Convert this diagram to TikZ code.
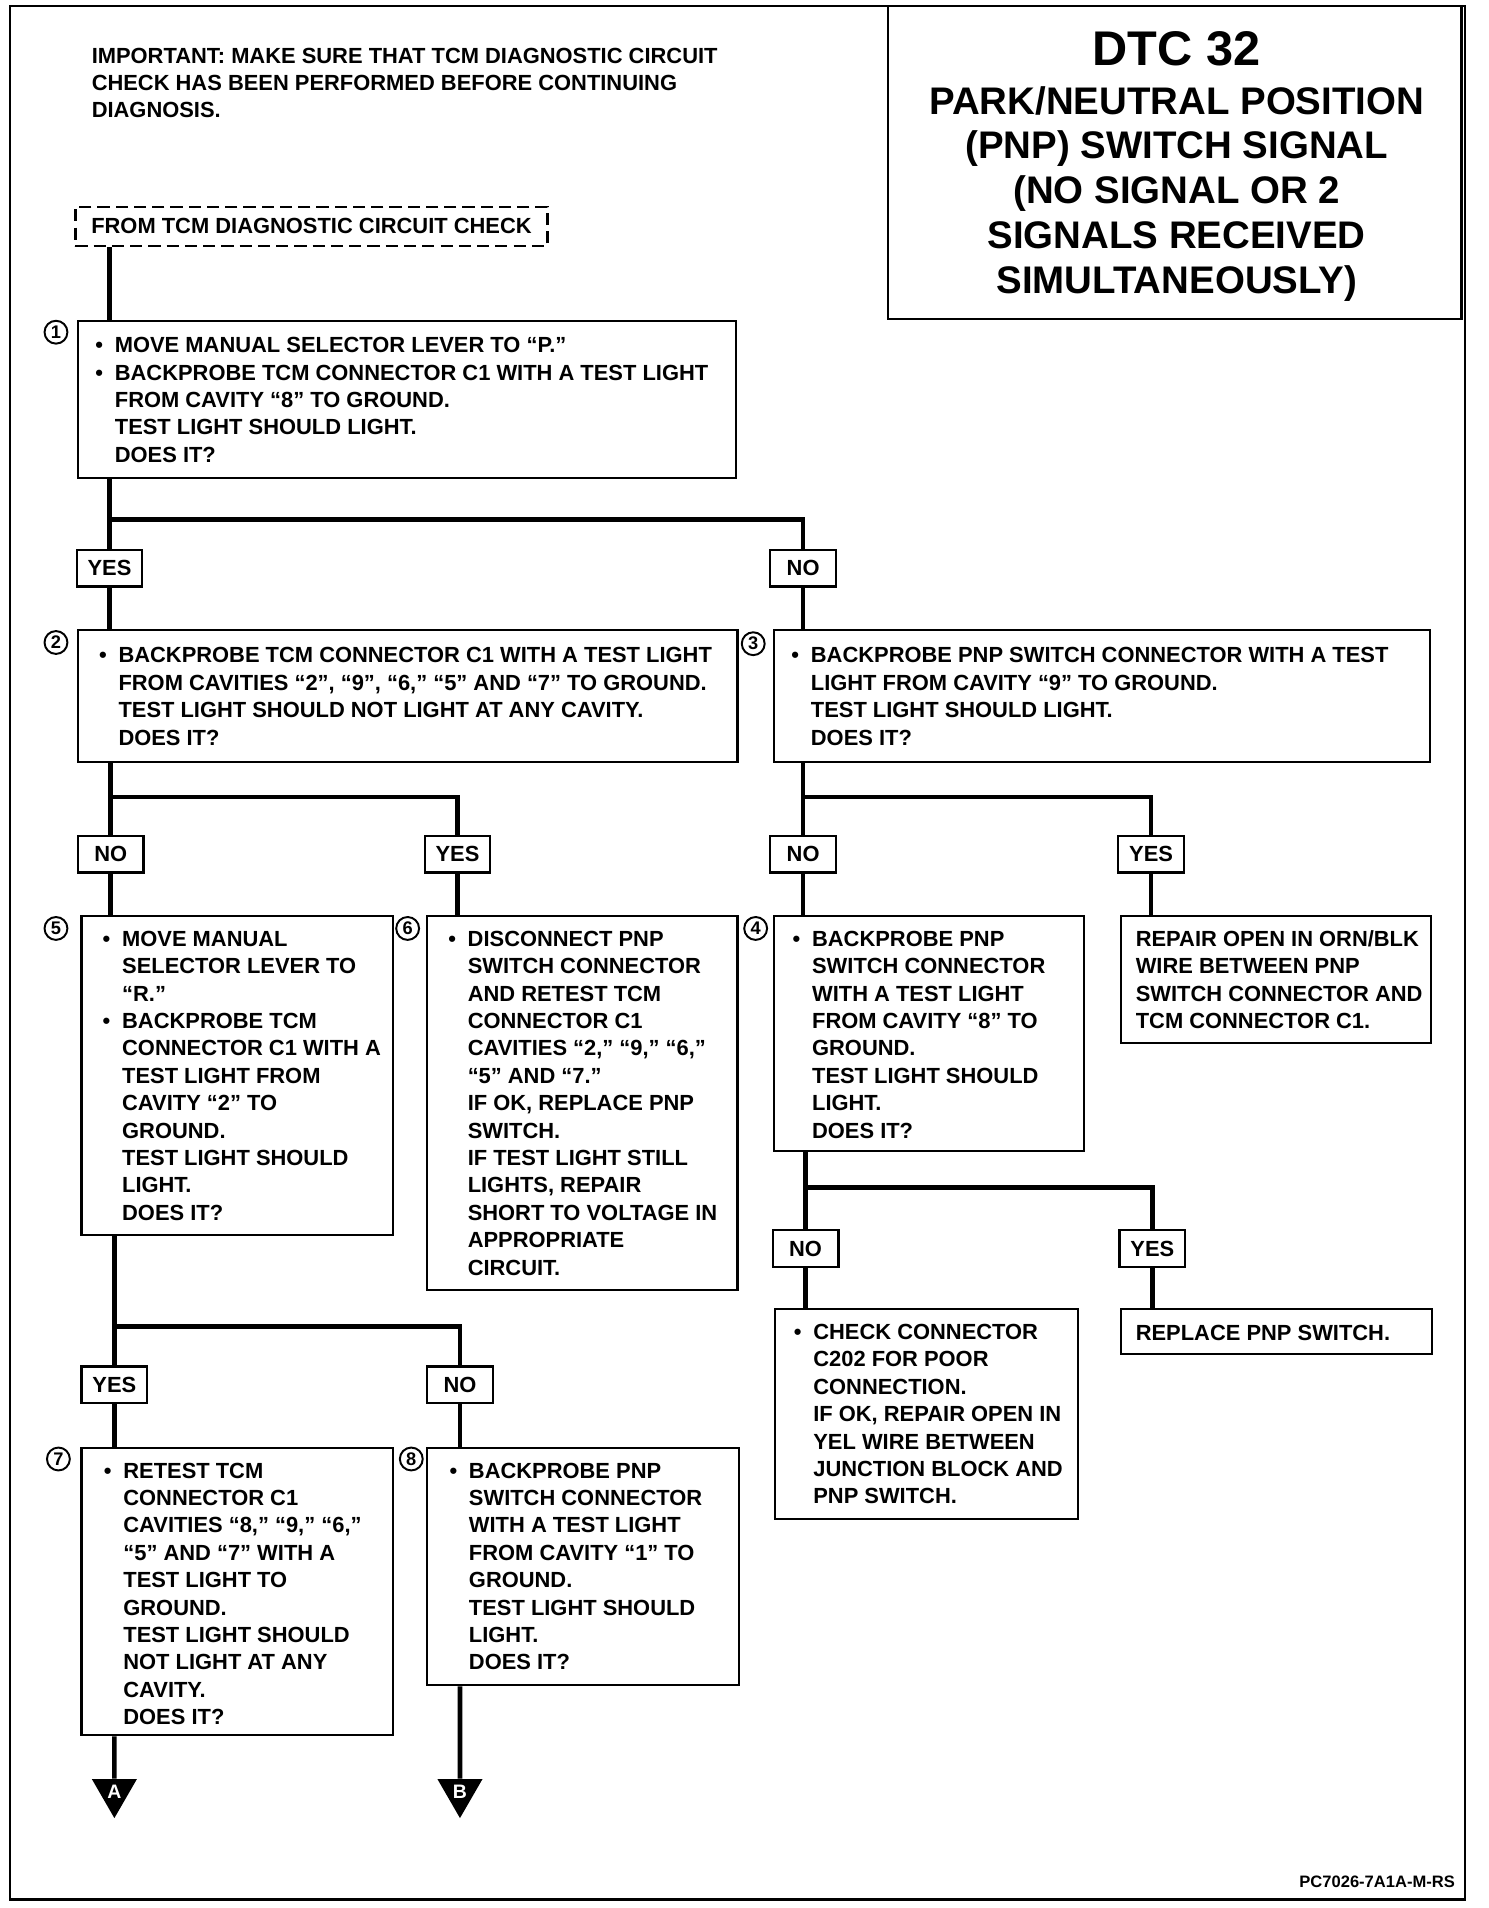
\documentclass[tikz,border=0pt]{standalone}
\usepackage{fontspec}
\setmainfont{Liberation Sans}
\usetikzlibrary{fit,shapes.geometric}
\newcommand\bul{\makebox[8pt][l]{\textbullet}}
\newcommand\ind{\hspace*{8pt}}
\newcommand\st{\rule{0pt}{8pt}}
\begin{document}
\begin{tikzpicture}[x=0.5pt,y=-0.5pt,
  font=\fontsize{9}{11.25}\selectfont\bfseries,
  box/.style={draw, line width=0.9pt, inner sep=0pt},
  txt/.style={anchor=north west, inner sep=0pt, align=left},
  lab/.style={draw, line width=0.9pt, minimum width=27pt, minimum height=15pt, inner sep=0pt},
  conn/.style={line width=1.9pt},
  num/.style={draw, circle, line width=0.8pt, minimum size=9.4pt, inner sep=0pt, font=\fontsize{7.5}{8}\selectfont\bfseries},
  tri/.style={regular polygon, regular polygon sides=3, shape border rotate=180, fill=black, minimum size=21.4pt, inner sep=0pt, text=white, font=\fontsize{8}{9}\selectfont\bfseries}]
\useasboundingbox (0,0) rectangle (1223,1568);
\fill[white] (0,0) rectangle (1223,1568);
% outer frame
\draw[line width=0.9pt] (8,5) rectangle (1204,1561);
% title
\node[box, fit={(730,5) (1201,262)}] (ttlbox) {};
\node[anchor=base, inner sep=0pt, font=\fontsize{20}{24}\selectfont\bfseries] (ttl1) at (967,54) {DTC 32};
\node[anchor=north, inner sep=0pt, align=center, font=\fontsize{15.8}{18.4}\selectfont\bfseries] (ttl2) at (967,65.3)
  {\rule{0pt}{14pt}PARK/NEUTRAL POSITION\\(PNP) SWITCH SIGNAL\\(NO SIGNAL OR 2\\SIGNALS RECEIVED\\SIMULTANEOUSLY)};
% important
\node[txt] (imp) at (75,35.4) {\st IMPORTANT: MAKE SURE THAT TCM DIAGNOSTIC CIRCUIT\\CHECK HAS BEEN PERFORMED BEFORE CONTINUING\\DIAGNOSIS.};
% start
\node[draw, dashed, dash pattern=on 5pt off 2.5pt, line width=0.9pt, minimum width=194pt, minimum height=16pt, inner sep=0pt] (start) at (256,186) {FROM TCM DIAGNOSTIC CIRCUIT CHECK};
% boxes
\node[box, fit={(64,264) (605,393)}] (b1) {};
\node[box, fit={(64,518) (606,626)}] (b2) {};
\node[box, fit={(636,518) (1175,626)}] (b3) {};
\node[box, fit={(67,753) (323,1015)}] (b5) {};
\node[box, fit={(351,753) (606,1060)}] (b6) {};
\node[box, fit={(636,753) (891,946)}] (b4) {};
\node[box, fit={(921,753) (1176,857)}] (born) {};
\node[box, fit={(67,1190) (323,1426)}] (b7) {};
\node[box, fit={(351,1190) (607,1385)}] (b8) {};
\node[box, fit={(637,1076) (886,1248)}] (bchk) {};
\node[box, fit={(921,1076) (1177,1113)}] (brep) {};
% numbers
\node[num] (c1) at (46,273) {1};
\node[num] (c2) at (46,528) {2};
\node[num] (c3) at (619,529) {3};
\node[num] (c5) at (46,763) {5};
\node[num] (c6) at (335,763) {6};
\node[num] (c4) at (621,763) {4};
\node[num] (c7) at (48,1199) {7};
\node[num] (c8) at (338,1199) {8};
% texts
\node[txt] (t1) at (78,273.4) {\st\bul MOVE MANUAL SELECTOR LEVER TO “P.”\\
\bul BACKPROBE TCM CONNECTOR C1 WITH A TEST LIGHT\\
\ind FROM CAVITY “8” TO GROUND.\\
\ind TEST LIGHT SHOULD LIGHT.\\
\ind DOES IT?};
\node[txt] (t2) at (81,528.4) {\st\bul BACKPROBE TCM CONNECTOR C1 WITH A TEST LIGHT\\
\ind FROM CAVITIES “2”, “9”, “6,” “5” AND “7” TO GROUND.\\
\ind TEST LIGHT SHOULD NOT LIGHT AT ANY CAVITY.\\
\ind DOES IT?};
\node[txt] (t3) at (650,528.4) {\st\bul BACKPROBE PNP SWITCH CONNECTOR WITH A TEST\\
\ind LIGHT FROM CAVITY “9” TO GROUND.\\
\ind TEST LIGHT SHOULD LIGHT.\\
\ind DOES IT?};
\node[txt] (t5) at (84,761.4) {\st\bul MOVE MANUAL\\ \ind SELECTOR LEVER TO\\ \ind “R.”\\ \bul BACKPROBE TCM\\ \ind CONNECTOR C1 WITH A\\ \ind TEST LIGHT FROM\\ \ind CAVITY “2” TO\\ \ind GROUND.\\ \ind TEST LIGHT SHOULD\\ \ind LIGHT.\\ \ind DOES IT?};
\node[txt] (t6) at (368,761.4) {\st\bul DISCONNECT PNP\\ \ind SWITCH CONNECTOR\\ \ind AND RETEST TCM\\ \ind CONNECTOR C1\\ \ind CAVITIES “2,” “9,” “6,”\\ \ind “5” AND “7.”\\ \ind IF OK, REPLACE PNP\\ \ind SWITCH.\\ \ind IF TEST LIGHT STILL\\ \ind LIGHTS, REPAIR\\ \ind SHORT TO VOLTAGE IN\\ \ind APPROPRIATE\\ \ind CIRCUIT.};
\node[txt] (t4) at (651,761.4) {\st\bul BACKPROBE PNP\\ \ind SWITCH CONNECTOR\\ \ind WITH A TEST LIGHT\\ \ind FROM CAVITY “8” TO\\ \ind GROUND.\\ \ind TEST LIGHT SHOULD\\ \ind LIGHT.\\ \ind DOES IT?};
\node[txt] (torn) at (933,761.4) {\st REPAIR OPEN IN ORN/BLK\\ WIRE BETWEEN PNP\\ SWITCH CONNECTOR AND\\ TCM CONNECTOR C1.};
\node[txt] (t7) at (85,1198.4) {\st\bul RETEST TCM\\ \ind CONNECTOR C1\\ \ind CAVITIES “8,” “9,” “6,”\\ \ind “5” AND “7” WITH A\\ \ind TEST LIGHT TO\\ \ind GROUND.\\ \ind TEST LIGHT SHOULD\\ \ind NOT LIGHT AT ANY\\ \ind CAVITY.\\ \ind DOES IT?};
\node[txt] (t8) at (369,1198.4) {\st\bul BACKPROBE PNP\\ \ind SWITCH CONNECTOR\\ \ind WITH A TEST LIGHT\\ \ind FROM CAVITY “1” TO\\ \ind GROUND.\\ \ind TEST LIGHT SHOULD\\ \ind LIGHT.\\ \ind DOES IT?};
\node[txt] (tchk) at (652,1084.4) {\st\bul CHECK CONNECTOR\\ \ind C202 FOR POOR\\ \ind CONNECTION.\\ \ind IF OK, REPAIR OPEN IN\\ \ind YEL WIRE BETWEEN\\ \ind JUNCTION BLOCK AND\\ \ind PNP SWITCH.};
\node[anchor=base west, inner sep=0pt] (trep) at (933,1101.4) {REPLACE PNP SWITCH.};
% labels
\node[lab] (yes1) at (90,467) {YES};
\node[lab] (no1) at (660,467) {NO};
\node[lab] (no2) at (91,702) {NO};
\node[lab] (yes2) at (376,702) {YES};
\node[lab] (no3) at (660,702) {NO};
\node[lab] (yes3) at (946,702) {YES};
\node[lab] (yes5) at (94,1138) {YES};
\node[lab] (no5) at (378,1138) {NO};
\node[lab] (no4) at (662,1026) {NO};
\node[lab] (yes4) at (947,1026) {YES};
% triangles
\node[tri] (triA) at (94,1472.7) {A};
\node[tri] (triB) at (378,1472.7) {B};
% junction coordinates
\coordinate (j1) at (90,427);
\coordinate (j2) at (91,655);
\coordinate (j3) at (660,655);
\coordinate (j5) at (94,1090);
\coordinate (j4) at (662,976);
% connectors
\draw[conn] (start.south -| yes1) -- (b1.north -| yes1);
\draw[conn] (b1.south -| yes1) -- (yes1.north);
\draw[conn] (j1) -| (no1.north);
\draw[conn] (yes1.south) -- (yes1 |- b2.north);
\draw[conn] (no1.south) -- (no1 |- b3.north);
\draw[conn] (b2.south -| no2) -- (no2.north);
\draw[conn] (j2) -| (yes2.north);
\draw[conn] (no2.south) -- (no2 |- b5.north);
\draw[conn] (yes2.south) -- (yes2 |- b6.north);
\draw[conn] (b3.south -| no3) -- (no3.north);
\draw[conn] (j3) -| (yes3.north);
\draw[conn] (no3.south) -- (no3 |- b4.north);
\draw[conn] (yes3.south) -- (yes3 |- born.north);
\draw[conn] (b5.south -| yes5) -- (yes5.north);
\draw[conn] (j5) -| (no5.north);
\draw[conn] (yes5.south) -- (yes5 |- b7.north);
\draw[conn] (no5.south) -- (no5 |- b8.north);
\draw[conn] (b7.south -| triA) -- (triA.north);
\draw[conn] (b8.south -| triB) -- (triB.north);
\draw[conn] (b4.south -| no4) -- (no4.north);
\draw[conn] (j4) -| (yes4.north);
\draw[conn] (no4.south) -- (no4 |- bchk.north);
\draw[conn] (yes4.south) -- (yes4 |- brep.north);
% footer
\node[anchor=base east, inner sep=0pt, font=\fontsize{6.8}{8}\selectfont\bfseries] (foot) at (1196,1551) {PC7026-7A1A-M-RS};
\end{tikzpicture}
\end{document}
